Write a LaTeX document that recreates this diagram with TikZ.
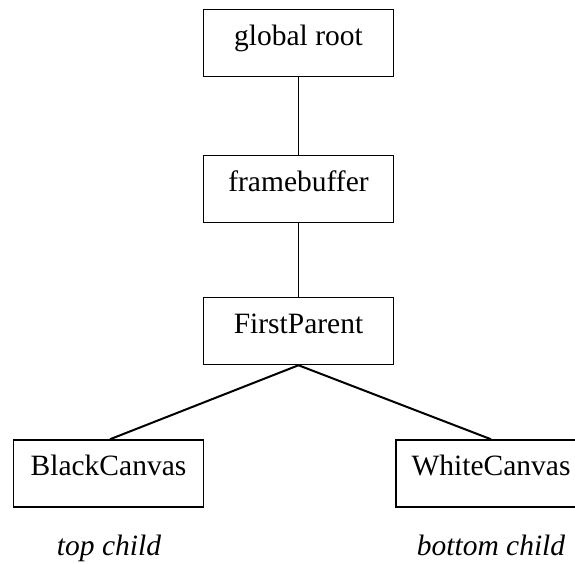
\documentclass[tikz,border=0pt]{standalone}
\usepackage{fontspec}
\setmainfont{Liberation Serif}
\begin{document}
\begin{tikzpicture}[x=1pt,y=-1pt,
  treebox/.style={draw, line width=1.5pt, minimum width=190pt, minimum height=67pt,
    inner sep=0pt, text height=0.69em, text depth=0.22em,
    font=\fontsize{29.5pt}{34pt}\selectfont},
  vlink/.style={line width=1.2pt},
  dlink/.style={line width=2pt},
  caption/.style={anchor=base, inner sep=0pt, font=\fontsize{29.5pt}{34pt}\selectfont\itshape}]
\useasboundingbox (0,0) rectangle (575,563);
\node[treebox] (root) at (298.5,43) {global root};
\node[treebox] (fb) at (298.5,189) {framebuffer};
\node[treebox] (fp) at (298.5,331) {FirstParent};
\node[treebox] (bc) at (108.5,473.5) {BlackCanvas};
\node[treebox] (wc) at (491,473.5) {WhiteCanvas};
\node[caption] (tc) at (109,555) {top child};
\node[caption] (btc) at (491,555) {bottom child};
\draw[vlink] (root.south) -- (fb.north);
\draw[vlink] (fb.south) -- (fp.north);
\draw[dlink] (fp.south) -- ([xshift=1.5pt]bc.north);
\draw[dlink] (fp.south) -- (wc.north);
\end{tikzpicture}
\end{document}
